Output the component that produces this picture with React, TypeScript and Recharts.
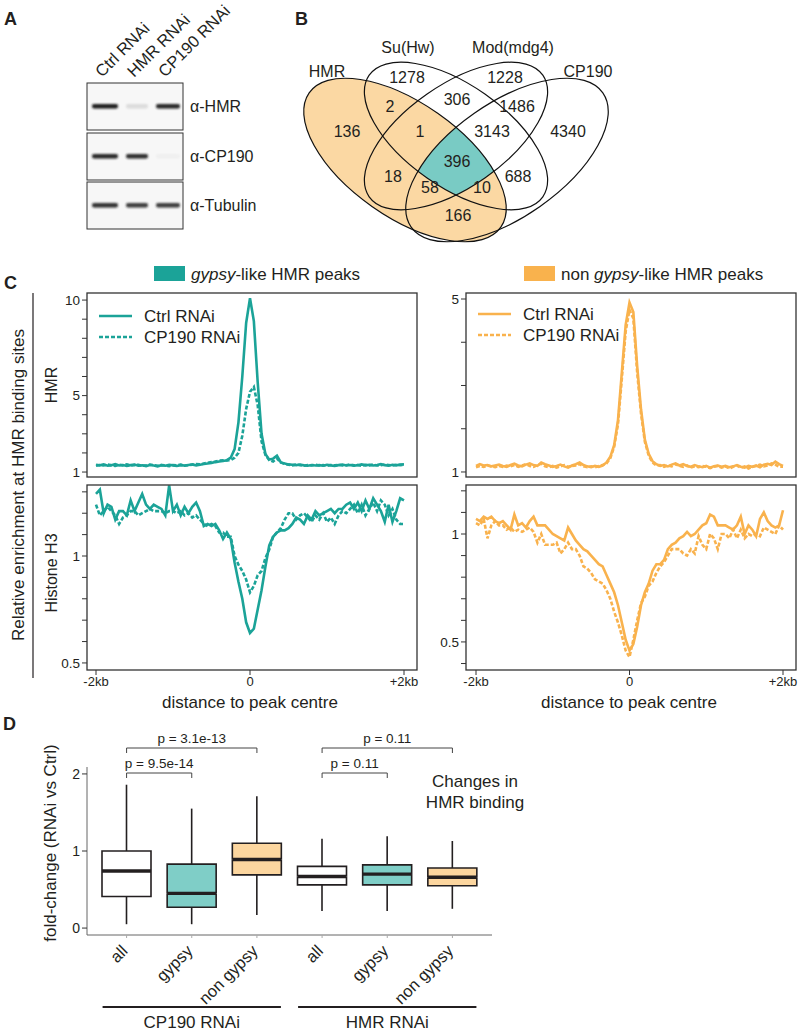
import React from 'react';
import { LineChart, Line, XAxis, YAxis, ComposedChart, Bar } from 'recharts';

const FONT = '"Liberation Sans", Arial, Helvetica, sans-serif';
const INK = '#231f20';
const TEAL = '#1ba398';
const ORANGE = '#f9b24d';
const TEAL_FILL = '#7fcec7';
const ORANGE_FILL = '#fcd69f';
const VENN_ORANGE = '#fbd8a3';
const VENN_TEAL = '#79cbc4';

// ---- panel A: western blot ----
const blotLanes = ['Ctrl RNAi', 'HMR RNAi', 'CP190 RNAi'];
const blotAntibodies = ['α-HMR', 'α-CP190', 'α-Tubulin'];
const blotSignal = [
  [1.0, 0.12, 0.95],
  [0.95, 0.92, 0.03],
  [0.9, 0.85, 0.85],
];

// ---- panel B: venn ----
const vennSets = ['HMR', 'Su(Hw)', 'Mod(mdg4)', 'CP190'];
const vennCounts = [136, 1278, 1228, 4340, 2, 306, 1486, 1, 3143, 396, 18, 688, 58, 10, 166];

// ---- panel C: profiles (bins of 50 bp, -2kb .. +2kb) ----
const positions = Array.from({ length: 81 }, (_, i) => -2000 + i * 50);

const gypsyHmrCtrl = [
  1.38, 1.35, 1.40, 1.33, 1.36, 1.41, 1.34, 1.37, 1.32, 1.36,
  1.39, 1.33, 1.35, 1.31, 1.37, 1.34, 1.30, 1.36, 1.33, 1.38,
  1.35, 1.32, 1.36, 1.34, 1.37, 1.40, 1.35, 1.38, 1.42, 1.45,
  1.48, 1.52, 1.55, 1.58, 1.62, 1.75, 2.20, 3.60, 6.00, 8.80,
  10.10, 8.90, 5.70, 3.00, 1.95, 1.65, 1.70, 1.85, 1.50, 1.45,
  1.40, 1.38, 1.36, 1.39, 1.35, 1.33, 1.37, 1.34, 1.36, 1.33,
  1.38, 1.35, 1.32, 1.36, 1.39, 1.34, 1.37, 1.33, 1.36, 1.40,
  1.35, 1.38, 1.34, 1.37, 1.41, 1.36, 1.33, 1.38, 1.35, 1.39, 1.40,
];
const gypsyHmrCp190 = [
  1.33, 1.37, 1.34, 1.39, 1.35, 1.32, 1.38, 1.35, 1.40, 1.34,
  1.36, 1.38, 1.32, 1.35, 1.39, 1.36, 1.33, 1.37, 1.35, 1.31,
  1.37, 1.35, 1.39, 1.33, 1.36, 1.38, 1.42, 1.40, 1.45, 1.48,
  1.52, 1.55, 1.60, 1.62, 1.60, 1.62, 1.75, 2.00, 2.90, 4.30,
  5.20, 5.45, 4.50, 2.60, 1.90, 1.62, 1.55, 1.70, 1.50, 1.42,
  1.38, 1.35, 1.40, 1.36, 1.33, 1.37, 1.35, 1.39, 1.34, 1.36,
  1.33, 1.37, 1.35, 1.38, 1.34, 1.36, 1.40, 1.35, 1.37, 1.33,
  1.38, 1.35, 1.39, 1.34, 1.36, 1.40, 1.37, 1.34, 1.38, 1.36, 1.37,
];
const gypsyH3Ctrl = [
  1.29, 1.31, 1.20, 1.24, 1.23, 1.17, 1.21, 1.21, 1.19, 1.26,
  1.21, 1.25, 1.29, 1.24, 1.22, 1.24, 1.23, 1.22, 1.19, 1.33,
  1.21, 1.24, 1.19, 1.23, 1.20, 1.23, 1.25, 1.21, 1.14, 1.15,
  1.14, 1.15, 1.12, 1.08, 1.11, 1.08, 0.97, 0.88, 0.80, 0.69,
  0.64, 0.66, 0.75, 0.84, 0.95, 1.05, 1.09, 1.11, 1.12, 1.12,
  1.13, 1.15, 1.18, 1.17, 1.15, 1.19, 1.17, 1.21, 1.19, 1.20,
  1.21, 1.22, 1.20, 1.22, 1.22, 1.24, 1.25, 1.22, 1.25, 1.21,
  1.26, 1.22, 1.27, 1.24, 1.21, 1.16, 1.24, 1.16, 1.21, 1.27, 1.26,
];
const gypsyH3Cp190 = [
  1.24, 1.19, 1.21, 1.23, 1.21, 1.19, 1.15, 1.18, 1.19, 1.21,
  1.21, 1.19, 1.20, 1.21, 1.22, 1.21, 1.21, 1.21, 1.20, 1.21,
  1.21, 1.20, 1.21, 1.19, 1.20, 1.18, 1.19, 1.17, 1.15, 1.14,
  1.15, 1.14, 1.11, 1.11, 1.09, 1.09, 1.00, 0.96, 0.93, 0.89,
  0.83, 0.86, 0.91, 0.93, 0.99, 1.03, 1.09, 1.11, 1.13, 1.17,
  1.20, 1.20, 1.17, 1.19, 1.20, 1.18, 1.16, 1.19, 1.17, 1.20,
  1.16, 1.18, 1.15, 1.19, 1.21, 1.20, 1.22, 1.24, 1.20, 1.24,
  1.19, 1.22, 1.25, 1.21, 1.26, 1.24, 1.19, 1.22, 1.17, 1.15, 1.15,
];
const nonGypsyHmrCtrl = [
  1.14, 1.18, 1.15, 1.16, 1.13, 1.15, 1.17, 1.14, 1.12, 1.16,
  1.19, 1.15, 1.13, 1.17, 1.20, 1.16, 1.14, 1.22, 1.18, 1.15,
  1.12, 1.14, 1.17, 1.13, 1.10, 1.15, 1.18, 1.22, 1.16, 1.13,
  1.11, 1.14, 1.12, 1.15, 1.22, 1.35, 1.62, 2.20, 3.30, 4.40,
  4.92, 4.70, 3.45, 2.45, 1.75, 1.42, 1.25, 1.18, 1.14, 1.16,
  1.13, 1.17, 1.20, 1.15, 1.18, 1.14, 1.12, 1.16, 1.13, 1.11,
  1.14, 1.10, 1.13, 1.15, 1.12, 1.14, 1.11, 1.13, 1.16, 1.12,
  1.10, 1.14, 1.12, 1.15, 1.11, 1.17, 1.19, 1.16, 1.24, 1.18, 1.14,
];
const nonGypsyHmrCp190 = [
  1.11, 1.14, 1.12, 1.15, 1.13, 1.11, 1.14, 1.12, 1.15, 1.13,
  1.16, 1.12, 1.15, 1.18, 1.14, 1.12, 1.16, 1.19, 1.13, 1.11,
  1.14, 1.10, 1.13, 1.16, 1.12, 1.14, 1.15, 1.18, 1.13, 1.11,
  1.13, 1.11, 1.14, 1.16, 1.20, 1.32, 1.58, 2.10, 3.15, 4.25,
  4.75, 4.55, 3.30, 2.35, 1.70, 1.38, 1.22, 1.15, 1.16, 1.12,
  1.15, 1.13, 1.18, 1.14, 1.12, 1.15, 1.10, 1.13, 1.11, 1.14,
  1.12, 1.09, 1.12, 1.14, 1.10, 1.13, 1.08, 1.12, 1.15, 1.10,
  1.13, 1.08, 1.12, 1.14, 1.17, 1.13, 1.15, 1.20, 1.17, 1.12, 1.12,
];
const nonGypsyH3Ctrl = [
  1.07, 1.06, 1.08, 1.07, 1.08, 1.06, 1.05, 1.06, 1.04, 1.02,
  1.09, 1.04, 1.05, 1.03, 1.06, 1.08, 1.04, 1.04, 1.04, 1.02,
  1.00, 0.99, 0.98, 0.97, 1.03, 1.00, 0.97, 0.95, 0.93, 0.92,
  0.90, 0.88, 0.86, 0.85, 0.81, 0.77, 0.73, 0.67, 0.59, 0.51,
  0.46, 0.49, 0.57, 0.67, 0.73, 0.77, 0.83, 0.86, 0.86, 0.88,
  0.93, 0.95, 0.96, 0.98, 0.99, 1.01, 0.99, 1.00, 1.02, 1.04,
  1.05, 1.09, 1.08, 1.04, 1.04, 1.04, 1.03, 1.02, 1.04, 1.08,
  1.00, 1.04, 1.02, 0.99, 1.07, 1.10, 1.06, 1.04, 1.03, 1.04, 1.11,
];
const nonGypsyH3Cp190 = [
  1.05, 1.04, 1.07, 0.98, 1.04, 1.06, 1.04, 1.04, 1.02, 1.03,
  1.01, 1.02, 1.01, 1.02, 1.03, 1.01, 0.96, 1.00, 0.95, 0.95,
  0.95, 0.96, 0.91, 0.93, 0.96, 0.93, 0.93, 0.90, 0.85, 0.84,
  0.82, 0.79, 0.78, 0.77, 0.74, 0.70, 0.64, 0.59, 0.53, 0.46,
  0.43, 0.51, 0.60, 0.68, 0.71, 0.76, 0.78, 0.82, 0.85, 0.87,
  0.90, 0.93, 0.93, 0.93, 0.91, 0.90, 0.93, 0.91, 0.99, 0.95,
  0.93, 1.00, 0.98, 0.93, 1.00, 1.00, 0.98, 1.02, 0.98, 1.02,
  0.98, 1.00, 0.99, 1.00, 0.99, 1.03, 1.02, 1.01, 1.00, 1.04, 1.02,
];

// ---- panel D: box plots ----
const boxIds = ['cp-all', 'cp-gypsy', 'cp-non', 'hmr-all', 'hmr-gypsy', 'hmr-non'];
const boxLabels = ['all', 'gypsy', 'non gypsy', 'all', 'gypsy', 'non gypsy'];
const whiskerLow = [0.05, 0.05, 0.17, 0.22, 0.22, 0.25];
const quart1 = [0.41, 0.27, 0.69, 0.56, 0.56, 0.55];
const medians = [0.74, 0.45, 0.89, 0.67, 0.70, 0.66];
const quart3 = [1.0, 0.83, 1.1, 0.8, 0.82, 0.78];
const whiskerHigh = [1.86, 1.55, 1.71, 1.16, 1.19, 1.13];
const boxFills = ['#ffffff', TEAL_FILL, ORANGE_FILL, '#ffffff', TEAL_FILL, ORANGE_FILL];
const pTests = [
  { from: 0, to: 2, label: 'p = 3.1e-13', row: 0 },
  { from: 0, to: 1, label: 'p = 9.5e-14', row: 1 },
  { from: 3, to: 5, label: 'p = 0.11', row: 0 },
  { from: 3, to: 4, label: 'p = 0.11', row: 1 },
];
const boxGroups = [
  { label: 'CP190 RNAi', from: 0, to: 2 },
  { label: 'HMR RNAi', from: 3, to: 5 },
];

const profileRows = (ctrl: number[], kd: number[]) =>
  positions.map((pos, i) => ({ pos, ctrl: ctrl[i], kd: kd[i] }));

const boxRows = boxIds.map((id, i) => ({
  id,
  tone: boxFills[i],
  base: whiskerLow[i],
  wLow: quart1[i] - whiskerLow[i],
  boxLow: medians[i] - quart1[i],
  boxHigh: quart3[i] - medians[i],
  wHigh: whiskerHigh[i] - quart3[i],
}));

const kbLabel = (v: number) => (v === 0 ? '0' : v < 0 ? '-2kb' : '+2kb');

interface ProfileProps {
  left: number;
  top: number;
  rows: any[];
  color: string;
  domain: [number, number];
  ticks: number[];
  labelled: number[];
  padLeft: number;
  padRight: number;
  withX: boolean;
}

function ProfilePanel({ left, top, rows, color, domain, ticks, labelled, padLeft, padRight, withX }: ProfileProps) {
  const height = withX ? 225 : 199;
  return (
    <div style={{ position: 'absolute', left, top }}>
      <LineChart width={420} height={height} data={rows} margin={{ top: 10, right: 3, bottom: 5, left: 0 }}>
        <XAxis
          dataKey="pos"
          type="number"
          domain={[-2000, 2000]}
          ticks={[-2000, 0, 2000]}
          padding={{ left: padLeft, right: padRight }}
          hide={!withX}
          height={25}
          axisLine={false}
          tickSize={5}
          tickLine={{ stroke: '#333' }}
          tick={{ fontSize: 13, fill: INK }}
          tickFormatter={kbLabel}
        />
        <YAxis
          type="number"
          domain={domain}
          ticks={ticks}
          allowDataOverflow
          width={87}
          axisLine={false}
          tickSize={5}
          tickLine={{ stroke: '#333' }}
          tick={{ fontSize: 13.5, fill: INK }}
          tickFormatter={(v: number) => (labelled.includes(v) ? String(v) : '')}
        />
        <Line type="linear" dataKey="ctrl" stroke={color} strokeWidth={2.6} dot={false} isAnimationActive={false} />
        <Line type="linear" dataKey="kd" stroke={color} strokeWidth={2.6} strokeDasharray="4 2" dot={false} isAnimationActive={false} />
      </LineChart>
    </div>
  );
}

const NoShape = () => <g />;

const WhiskerShape = (props: any) => {
  const { x, y, width, height } = props;
  const cx = x + width / 2;
  return <line x1={cx} x2={cx} y1={y} y2={y + height} stroke={INK} strokeWidth={1.6} />;
};

const LowerBoxShape = (props: any) => {
  const { x, y, width, height, payload } = props;
  return (
    <g>
      <rect x={x} y={y} width={width} height={height} fill={payload.tone} />
      <path d={`M${x},${y} V${y + height} H${x + width} V${y}`} fill="none" stroke={INK} strokeWidth={1.6} />
    </g>
  );
};

const UpperBoxShape = (props: any) => {
  const { x, y, width, height, payload } = props;
  return (
    <g>
      <rect x={x} y={y} width={width} height={height} fill={payload.tone} />
      <path d={`M${x},${y + height} V${y} H${x + width} V${y + height}`} fill="none" stroke={INK} strokeWidth={1.6} />
      <line x1={x} x2={x + width} y1={y + height} y2={y + height} stroke={INK} strokeWidth={3.4} />
    </g>
  );
};

const BoxTick = (props: any) => {
  const { x, y, payload } = props;
  const i = boxIds.indexOf(payload.value);
  const ax = x + 2;
  const ay = y + 12;
  return (
    <text x={ax} y={ay} textAnchor="end" transform={`rotate(-45 ${ax} ${ay})`} fontSize={16.5} fill={INK}>
      {boxLabels[i]}
    </text>
  );
};

// layout helpers for panel D overlay (plot 87..492, padding 7)
const boxX = (i: number) => 94 + (391 / 6) * (i + 0.5);

const ellipses = [
  { cx: 405, cy: 160, rx: 117, ry: 57, rot: 35 },
  { cx: 456, cy: 136, rx: 106, ry: 51, rot: 35 },
  { cx: 456, cy: 136, rx: 106, ry: 51, rot: -35 },
  { cx: 507, cy: 160, rx: 117, ry: 57, rot: -35 },
];
const vennSetPos = [[327, 77], [408, 53], [513, 53], [588, 77]];
const vennCountPos = [
  [347, 137], [407, 83], [505, 83], [568, 137], [390, 112], [457, 105], [517, 112],
  [420, 137], [492, 137], [457, 167], [393, 182], [518, 182], [430, 193], [482, 193], [458, 221],
];

const lanesX = [105, 137, 168];
const bandW = [26, 22, 24];
const blotRows = [83, 133, 182];

export default function App() {
  const ell = (e: any, extra: any = {}) => (
    <ellipse cx={e.cx} cy={e.cy} rx={e.rx} ry={e.ry} transform={`rotate(${e.rot} ${e.cx} ${e.cy})`} {...extra} />
  );
  return (
    <div style={{ position: 'relative', width: 800, height: 1032, fontFamily: FONT, background: '#fff', overflow: 'hidden' }}>
      <style>{'body{margin:0}'}</style>

      <ProfilePanel left={0} top={283} rows={profileRows(gypsyHmrCtrl, gypsyHmrCp190)} color={TEAL}
        domain={[0.74, 10.37]} ticks={[1, 2, 3, 4, 5, 6, 7, 8, 9, 10]} labelled={[1, 5, 10]}
        padLeft={9} padRight={13} withX={false} />
      <ProfilePanel left={0} top={475} rows={profileRows(gypsyH3Ctrl, gypsyH3Cp190)} color={TEAL}
        domain={[0.467, 1.332]} ticks={[0.5, 0.6, 0.7, 0.8, 0.9, 1, 1.1, 1.2, 1.3]} labelled={[0.5, 1]}
        padLeft={9} padRight={13} withX />
      <ProfilePanel left={379} top={283} rows={profileRows(nonGypsyHmrCtrl, nonGypsyHmrCp190)} color={ORANGE}
        domain={[0.884, 5.139]} ticks={[1, 2, 3, 4, 5]} labelled={[1, 5]}
        padLeft={10} padRight={13} withX={false} />
      <ProfilePanel left={379} top={475} rows={profileRows(nonGypsyH3Ctrl, nonGypsyH3Cp190)} color={ORANGE}
        domain={[0.37, 1.227]} ticks={[0.4, 0.5, 0.6, 0.7, 0.8, 0.9, 1, 1.1, 1.2]} labelled={[0.5, 1]}
        padLeft={10} padRight={13} withX />

      <div style={{ position: 'absolute', left: 0, top: 757 }}>
        <ComposedChart width={500} height={278} data={boxRows} margin={{ top: 10, right: 8, bottom: 0, left: 0 }}>
          <XAxis dataKey="id" type="category" interval={0} padding={{ left: 7, right: 7 }} height={100}
            axisLine={{ stroke: '#666' }} tickLine={{ stroke: '#aaa' }} tickSize={3} tick={<BoxTick />} />
          <YAxis type="number" domain={[-0.09, 2.09]} ticks={[0, 1, 2]} allowDataOverflow width={87}
            axisLine={{ stroke: '#666' }} tickLine={{ stroke: '#333' }} tickSize={5}
            tick={{ fontSize: 14, fill: INK }} />
          <Bar dataKey="base" stackId="box" barSize={49} shape={NoShape} isAnimationActive={false} />
          <Bar dataKey="wLow" stackId="box" barSize={49} shape={WhiskerShape} isAnimationActive={false} />
          <Bar dataKey="boxLow" stackId="box" barSize={49} shape={LowerBoxShape} isAnimationActive={false} />
          <Bar dataKey="boxHigh" stackId="box" barSize={49} shape={UpperBoxShape} isAnimationActive={false} />
          <Bar dataKey="wHigh" stackId="box" barSize={49} shape={WhiskerShape} isAnimationActive={false} />
        </ComposedChart>
      </div>

      <svg width={800} height={1032} style={{ position: 'absolute', left: 0, top: 0, pointerEvents: 'none' }}
        fontFamily={FONT}>
        <defs>
          <filter id="blur" x="-50%" y="-200%" width="200%" height="500%">
            <feGaussianBlur stdDeviation="1.3" />
          </filter>
          {ellipses.map((e, i) => (
            <clipPath id={`vclip${i}`} key={i}>{ell(e)}</clipPath>
          ))}
        </defs>

        {/* panel letters */}
        <g fontWeight="bold" fontSize={18} fill={INK}>
          <text x={4} y={25}>A</text>
          <text x={295} y={25}>B</text>
          <text x={4} y={289}>C</text>
          <text x={3} y={730}>D</text>
        </g>

        {/* panel A */}
        {blotLanes.map((l, i) => (
          <text key={l} x={lanesX[i] - 3} y={78} transform={`rotate(-45 ${lanesX[i] - 3} 78)`} fontSize={16.5} fill={INK}>{l}</text>
        ))}
        {blotAntibodies.map((ab, r) => (
          <g key={ab}>
            <rect x={87} y={blotRows[r]} width={96} height={47} fill="#f7f7f7" stroke="#333" strokeWidth={1} />
            {blotSignal[r].map((s, c) => (
              <rect key={c} x={lanesX[c] - bandW[c] / 2} y={blotRows[r] + 21} width={bandW[c]} height={4.5} rx={2}
                fill="#1a1a1a" opacity={s} filter="url(#blur)" />
            ))}
            <text x={190} y={blotRows[r] + 29} fontSize={16} fill={INK}>{ab}</text>
          </g>
        ))}

        {/* panel B */}
        {ell(ellipses[0], { fill: VENN_ORANGE })}
        <g clipPath="url(#vclip1)">
          <g clipPath="url(#vclip2)">
            <g clipPath="url(#vclip3)">{ell(ellipses[0], { fill: VENN_TEAL })}</g>
          </g>
        </g>
        {ellipses.map((e, i) => (
          <g key={i}>{ell(e, { fill: 'none', stroke: '#111', strokeWidth: 1.2 })}</g>
        ))}
        <g fontSize={16} fill={INK} textAnchor="middle">
          {vennSets.map((s, i) => (
            <text key={s} x={vennSetPos[i][0]} y={vennSetPos[i][1]}>{s}</text>
          ))}
          {vennCounts.map((n, i) => (
            <text key={i} x={vennCountPos[i][0]} y={vennCountPos[i][1]}>{n}</text>
          ))}
        </g>

        {/* panel C headers */}
        <rect x={154} y={266} width={31} height={15} fill={TEAL} />
        <text x={191} y={280} fontSize={17} fill={INK}>
          <tspan fontStyle="italic">gypsy</tspan>-like HMR peaks
        </text>
        <rect x={524} y={266} width={31} height={15} fill={ORANGE} />
        <text x={561} y={280} fontSize={17} fill={INK}>
          non <tspan fontStyle="italic">gypsy</tspan>-like HMR peaks
        </text>

        {/* frames */}
        <g fill="none" stroke="#333" strokeWidth={1.3}>
          <rect x={87} y={293} width={330} height={184} />
          <rect x={87} y={485} width={330} height={185} />
          <rect x={466} y={293} width={330} height={184} />
          <rect x={466} y={485} width={330} height={185} />
        </g>

        {/* legends */}
        {[{ x: 99, y: 316, c: TEAL }, { x: 478, y: 314, c: ORANGE }].map((g, k) => (
          <g key={k}>
            <line x1={g.x} x2={g.x + 33} y1={g.y} y2={g.y} stroke={g.c} strokeWidth={2.6} />
            <line x1={g.x} x2={g.x + 33} y1={g.y + 21} y2={g.y + 21} stroke={g.c} strokeWidth={2.6} strokeDasharray="4 2" />
            <text x={g.x + 45} y={g.y + 6} fontSize={17} fill={INK}>Ctrl RNAi</text>
            <text x={g.x + 45} y={g.y + 27} fontSize={17} fill={INK}>CP190 RNAi</text>
          </g>
        ))}

        {/* C axis titles */}
        <line x1={33} x2={33} y1={293} y2={678} stroke={INK} strokeWidth={1.2} />
        <text transform="translate(24 485) rotate(-90)" textAnchor="middle" fontSize={17} fill={INK}>
          Relative enrichment at HMR binding sites
        </text>
        <text transform="translate(57 385) rotate(-90)" textAnchor="middle" fontSize={16} fill={INK}>HMR</text>
        <text transform="translate(57 573) rotate(-90)" textAnchor="middle" fontSize={16} fill={INK}>Histone H3</text>
        <text x={250} y={708} textAnchor="middle" fontSize={17} fill={INK}>distance to peak centre</text>
        <text x={629} y={708} textAnchor="middle" fontSize={17} fill={INK}>distance to peak centre</text>

        {/* panel D annotations */}
        <text transform="translate(56 843) rotate(-90)" textAnchor="middle" fontSize={17} fill={INK}>
          fold-change (RNAi vs Ctrl)
        </text>
        {pTests.map((p, i) => {
          const y = p.row === 0 ? 748 : 773;
          const x1 = boxX(p.from);
          const x2 = boxX(p.to);
          return (
            <g key={i}>
              <path d={`M${x1},${y + 5} V${y} H${x2} V${y + 5}`} fill="none" stroke="#444" strokeWidth={1} />
              <text x={(x1 + x2) / 2} y={y - 5} textAnchor="middle" fontSize={13.5} fill={INK}>{p.label}</text>
            </g>
          );
        })}
        {boxGroups.map((g) => (
          <g key={g.label}>
            <line x1={boxX(g.from) - 24} x2={boxX(g.to) + 24} y1={1007} y2={1007} stroke={INK} strokeWidth={2} />
            <text x={(boxX(g.from) + boxX(g.to)) / 2} y={1028} textAnchor="middle" fontSize={17} fill={INK}>{g.label}</text>
          </g>
        ))}
        <text x={475} y={787} textAnchor="middle" fontSize={17} fill={INK}>Changes in</text>
        <text x={475} y={808} textAnchor="middle" fontSize={17} fill={INK}>HMR binding</text>
      </svg>
    </div>
  );
}
